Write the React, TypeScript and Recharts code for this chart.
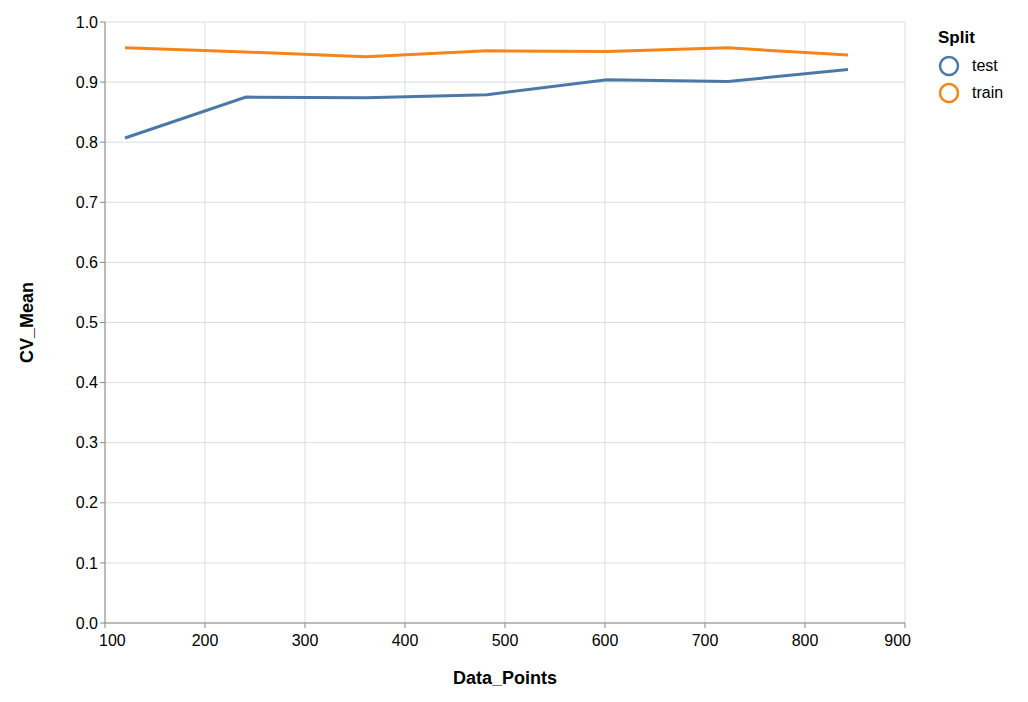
import React from "react";
import { LineChart, Line, XAxis, YAxis, CartesianGrid, Label } from "recharts";

const dataPoints = [120, 241, 361, 482, 602, 723, 843];
const testMean = [0.807, 0.875, 0.874, 0.879, 0.904, 0.901, 0.921];
const trainMean = [0.957, 0.950, 0.942, 0.952, 0.951, 0.957, 0.945];
const xTicks = [100, 200, 300, 400, 500, 600, 700, 800, 900];
const yTicks = [0, 0.1, 0.2, 0.3, 0.4, 0.5, 0.6, 0.7, 0.8, 0.9, 1.0];

const data = dataPoints.map((d, i) => ({ x: d, test: testMean[i], train: trainMean[i] }));
const FONT = "Liberation Sans, Arial, sans-serif";

const XTick = (props: any) => {
  const { x, y, payload } = props;
  const v = payload.value;
  const anchor = v === 100 ? "start" : v === 900 ? "end" : "middle";
  const dx = v === 100 ? -6 : v === 900 ? 6 : 0;
  return (
    <text x={x + dx} y={y + 16} textAnchor={anchor} fontSize={16} fill="#000" fontFamily={FONT}>
      {v}
    </text>
  );
};

export default function App() {
  return (
    <div style={{ position: "relative", width: 1020, height: 694, fontFamily: FONT }}>
      <LineChart width={1020} height={694} data={data} margin={{ top: 14, right: 123, bottom: 18, left: 19 }}>
        <CartesianGrid stroke="#ddd" />
        <XAxis
          dataKey="x"
          type="number"
          domain={[100, 900]}
          ticks={xTicks}
          tick={<XTick />}
          stroke="#888"
          tickSize={5}
          height={61}
        >
          <Label value="Data_Points" position="insideBottom" offset={0} style={{ fontSize: 18, fontWeight: "bold", fill: "#000", fontFamily: FONT }} />
        </XAxis>
        <YAxis
          type="number"
          domain={[0, 1]}
          ticks={yTicks}
          tickFormatter={(v: number) => v.toFixed(1)}
          tick={{ fontSize: 16, fill: "#000", fontFamily: FONT }}
          stroke="#888"
          tickSize={5}
          width={78}
        >
          <Label value="CV_Mean" angle={-90} position="insideLeft" offset={0} style={{ fontSize: 18, fontWeight: "bold", fill: "#000", fontFamily: FONT, textAnchor: "middle" }} />
        </YAxis>
        <Line type="linear" dataKey="test" stroke="#4c78a8" strokeWidth={3} dot={false} isAnimationActive={false} />
        <Line type="linear" dataKey="train" stroke="#f58518" strokeWidth={3} dot={false} isAnimationActive={false} />
      </LineChart>
      <div style={{ position: "absolute", left: 930, top: 20, fontSize: 16, color: "#000" }}>
        <div style={{ fontWeight: "bold", fontSize: 17, marginBottom: 4 }}>Split</div>
        {[["test", "#4c78a8"], ["train", "#f58518"]].map(([n, c]) => (
          <div key={n} style={{ display: "flex", alignItems: "center", height: 27 }}>
            <svg width={22} height={22} style={{ marginRight: 12 }}>
              <circle cx={11} cy={11} r={9} fill="none" stroke={c} strokeWidth={2.5} />
            </svg>
            <span>{n}</span>
          </div>
        ))}
      </div>
    </div>
  );
}
